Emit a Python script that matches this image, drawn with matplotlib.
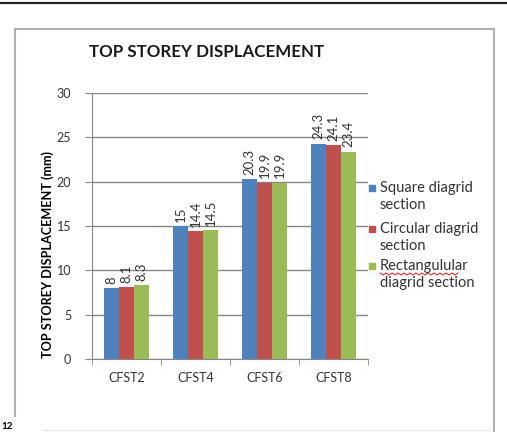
import matplotlib
matplotlib.use("Agg")
import matplotlib.pyplot as plt
from matplotlib.lines import Line2D
from matplotlib.patches import Rectangle
import numpy as np

plt.rcParams['font.family'] = ['Lato', 'DejaVu Sans']

categories = ['CFST2', 'CFST4', 'CFST6', 'CFST8']
square = [8, 15, 20.3, 24.3]
circular = [8.1, 14.4, 19.9, 24.1]
rectangular = [8.3, 14.5, 19.9, 23.4]
series_names = [('Square diagrid', 'section'),
                ('Circular diagrid', 'section'),
                ('Rectangulular', 'diagrid section')]
colors = ['#4F81BD', '#C0504D', '#9BBB59']

W, H = 507, 432


def fx(x):
    return x / W


def fy(y):
    return 1 - y / H


fig = plt.figure(figsize=(W / 100, H / 100), dpi=100)

# page rule at top and the chart frame
fig.add_artist(Line2D([0, 1], [fy(3), fy(3)], color='#202020', lw=1.6))
frame_col = '#b0b0b0'
fig.add_artist(Line2D([fx(15), fx(494)], [fy(29), fy(29)], color=frame_col, lw=1.5))
fig.add_artist(Line2D([fx(15), fx(15)], [fy(29), fy(416)], color=frame_col, lw=1.5))
fig.add_artist(Line2D([fx(494), fx(494)], [fy(29), fy(432)], color=frame_col, lw=1.5))
fig.add_artist(Line2D([fx(43), fx(490)], [fy(430), fy(430)], color='#e6e6e6', lw=1))
fig.text(fx(1), fy(431), '12', fontsize=7, fontweight='bold', va='bottom', ha='left')

ax = fig.add_axes([fx(92), fy(359), fx(368) - fx(92), fy(93) - fy(359)])

x = np.arange(len(categories))
bw = 0.217
for i, (vals, c) in enumerate(zip([square, circular, rectangular], colors)):
    pos = x + (i - 1) * bw
    ax.bar(pos, vals, width=bw, color=c, zorder=3)
    for p, v in zip(pos, vals):
        ax.text(p, v + 0.5, f'{v:g}', rotation=90, ha='center', va='bottom',
                fontsize=9.5, color='#333333')

ax.set_xlim(-0.5, len(categories) - 0.5)
ax.set_ylim(0, 30)
ax.set_yticks(np.arange(0, 31, 5))
ax.grid(axis='y', color='#868686', lw=1, zorder=0)
ax.set_xticks(x)
ax.set_xticklabels(categories)
ax.set_xticks(np.arange(-0.5, len(categories), 1), minor=True)
ax.tick_params(axis='x', which='major', length=0, pad=9, labelsize=9, labelcolor='#333333')
ax.tick_params(axis='x', which='minor', length=4, color='#868686')
ax.tick_params(axis='y', length=5, color='#868686', pad=10, labelsize=9, labelcolor='#333333')
for s in ['top', 'right']:
    ax.spines[s].set_visible(False)
for s in ['left', 'bottom']:
    ax.spines[s].set_color('#868686')

fig.text(fx(48), fy(254), 'TOP STOREY DISPLACEMENT (mm)', fontsize=9.1, fontweight='bold',
         rotation=90, ha='center', va='center')

fig.text(fx(207), fy(52), 'TOP STOREY DISPLACEMENT', fontsize=12.2, fontweight='bold',
         ha='center', va='center', color='#1a1a1a')

# legend, one line of text at a time
leg_y = [188, 229, 266]
for ty, (l1, l2), c in zip(leg_y, series_names, colors):
    fig.add_artist(Rectangle((fx(369), fy(ty + 3)), fx(6), 6 / H, color=c,
                             transform=fig.transFigure))
    fig.text(fx(380), fy(ty), l1, fontsize=10.5, color='#333333', ha='left', va='center')
    fig.text(fx(380), fy(ty + 17), l2, fontsize=10.5, color='#333333', ha='left', va='center')

# spell-check squiggle under the misspelt legend word
zx = np.arange(380, 461, 3)
zy = 274 + np.where(np.arange(len(zx)) % 2 == 0, -1, 1)
fig.add_artist(Line2D(fx(zx), fy(zy), color='#e03030', lw=0.8))

fig.savefig('out.png', dpi=100)
